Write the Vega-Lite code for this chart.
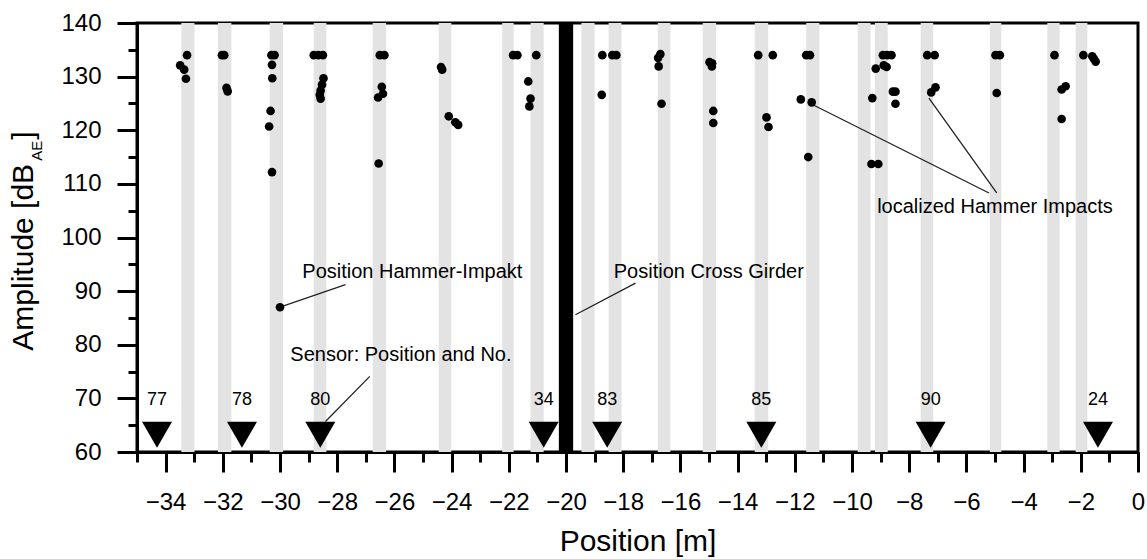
{
  "$schema": "https://vega.github.io/schema/vega-lite/v6.json",
  "width": 1001,
  "height": 429,
  "autosize": {"type": "none"},
  "padding": {"left": 137, "top": 23, "right": 9, "bottom": 107},
  "background": "white",
  "config": {"font": "Liberation Sans", "view": {"stroke": "black", "strokeWidth": 3}},
  "resolve": {"axis": {"x": "independent", "y": "independent"}},
  "datasets": {
    "bands": [
      {"x": -33.45, "x2": -32.99}, {"x": -32.17, "x2": -31.70}, {"x": -30.36, "x2": -29.89},
      {"x": -28.82, "x2": -28.38}, {"x": -26.76, "x2": -26.29}, {"x": -24.45, "x2": -24.01},
      {"x": -22.23, "x2": -21.83}, {"x": -21.24, "x2": -20.78}, {"x": -19.46, "x2": -19.00},
      {"x": -18.51, "x2": -18.06}, {"x": -16.79, "x2": -16.35}, {"x": -15.22, "x2": -14.75},
      {"x": -13.40, "x2": -12.93}, {"x": -11.60, "x2": -11.14}, {"x": -9.80, "x2": -9.35},
      {"x": -9.20, "x2": -8.75}, {"x": -7.60, "x2": -7.16}, {"x": -5.18, "x2": -4.78},
      {"x": -3.17, "x2": -2.74}, {"x": -2.18, "x2": -1.77}
    ],
    "points": [
      {"x": -33.25, "y": 134}, {"x": -33.49, "y": 132.1}, {"x": -33.35, "y": 131.3}, {"x": -33.29, "y": 129.6},
      {"x": -32.03, "y": 134}, {"x": -31.95, "y": 134}, {"x": -31.87, "y": 127.9}, {"x": -31.83, "y": 127.25},
      {"x": -30.30, "y": 134}, {"x": -30.19, "y": 134}, {"x": -30.28, "y": 132.2}, {"x": -30.27, "y": 129.7},
      {"x": -30.33, "y": 123.6}, {"x": -30.38, "y": 120.7}, {"x": -30.28, "y": 112.2}, {"x": -30.0, "y": 87.0},
      {"x": -28.82, "y": 134}, {"x": -28.66, "y": 134}, {"x": -28.50, "y": 134}, {"x": -28.48, "y": 129.7},
      {"x": -28.53, "y": 128.5}, {"x": -28.58, "y": 127.4}, {"x": -28.61, "y": 126.6}, {"x": -28.58, "y": 125.9},
      {"x": -26.51, "y": 134}, {"x": -26.35, "y": 134}, {"x": -26.44, "y": 128.1}, {"x": -26.40, "y": 126.8},
      {"x": -26.57, "y": 126.1}, {"x": -26.55, "y": 113.8},
      {"x": -24.37, "y": 131.8}, {"x": -24.33, "y": 131.3}, {"x": -24.10, "y": 122.6}, {"x": -23.87, "y": 121.5},
      {"x": -23.77, "y": 121.0},
      {"x": -21.85, "y": 134}, {"x": -21.70, "y": 134}, {"x": -21.04, "y": 134}, {"x": -21.32, "y": 129.1},
      {"x": -21.24, "y": 125.9}, {"x": -21.28, "y": 124.45},
      {"x": -18.73, "y": 134}, {"x": -18.38, "y": 134}, {"x": -18.24, "y": 134}, {"x": -18.75, "y": 126.6},
      {"x": -16.70, "y": 134.2}, {"x": -16.78, "y": 133.5}, {"x": -16.76, "y": 131.9}, {"x": -16.66, "y": 124.95},
      {"x": -14.98, "y": 132.7}, {"x": -14.89, "y": 132.5}, {"x": -14.90, "y": 131.9}, {"x": -14.85, "y": 123.6},
      {"x": -14.85, "y": 121.35},
      {"x": -13.28, "y": 134}, {"x": -12.77, "y": 134}, {"x": -12.99, "y": 122.4}, {"x": -12.92, "y": 120.6},
      {"x": -11.60, "y": 134}, {"x": -11.47, "y": 134}, {"x": -11.79, "y": 125.75}, {"x": -11.41, "y": 125.2},
      {"x": -11.53, "y": 115.0},
      {"x": -9.29, "y": 126.0}, {"x": -9.32, "y": 113.7}, {"x": -9.08, "y": 113.7}, {"x": -9.17, "y": 131.5},
      {"x": -8.89, "y": 132.1}, {"x": -8.79, "y": 131.8}, {"x": -8.92, "y": 134}, {"x": -8.77, "y": 134},
      {"x": -8.62, "y": 134}, {"x": -8.57, "y": 127.2}, {"x": -8.48, "y": 127.2}, {"x": -8.48, "y": 124.95},
      {"x": -7.37, "y": 134}, {"x": -7.11, "y": 134}, {"x": -7.08, "y": 128.0}, {"x": -7.23, "y": 127.06},
      {"x": -4.98, "y": 134}, {"x": -4.83, "y": 134}, {"x": -4.94, "y": 126.95},
      {"x": -2.92, "y": 134}, {"x": -2.67, "y": 127.6}, {"x": -2.53, "y": 128.2}, {"x": -2.67, "y": 122.1},
      {"x": -1.91, "y": 134}, {"x": -1.60, "y": 133.8}, {"x": -1.48, "y": 132.8}, {"x": -1.54, "y": 133.3}
    ],
    "sensors": [
      {"x": -34.30, "no": "77"}, {"x": -31.33, "no": "78"}, {"x": -28.59, "no": "80"}, {"x": -20.78, "no": "34"},
      {"x": -18.56, "no": "83"}, {"x": -13.17, "no": "85"}, {"x": -7.25, "no": "90"}, {"x": -1.40, "no": "24"}
    ],
    "leaders": [
      {"x": -30.0, "y": 87.0, "x2": -27.71, "y2": 91.2},
      {"x": -19.67, "y": 85.6, "x2": -17.57, "y2": 91.5},
      {"x": -26.86, "y": 74.1, "x2": -28.41, "y2": 65.7},
      {"x": -11.42, "y": 124.9, "x2": -5.21, "y2": 108.3},
      {"x": -7.31, "y": 126.0, "x2": -4.94, "y2": 108.3}
    ],
    "notes": [
      {"x": -29.22, "y": 92.45, "text": "Position Hammer-Impakt"},
      {"x": -18.33, "y": 92.45, "text": "Position Cross Girder"},
      {"x": -29.64, "y": 76.9, "text": "Sensor: Position and No."},
      {"x": -9.12, "y": 104.57, "text": "localized Hammer Impacts"}
    ]
  },
  "layer": [
    {
      "data": {"name": "bands"},
      "mark": {"type": "rect", "color": "#e3e3e3"},
      "encoding": {
        "x": {"field": "x", "type": "quantitative", "axis": null},
        "x2": {"field": "x2"}
      }
    },
    {
      "data": {"values": [{}]},
      "mark": {"type": "rect", "color": "black"},
      "encoding": {
        "x": {"datum": -20.25, "type": "quantitative", "axis": null},
        "x2": {"datum": -19.75}
      }
    },
    {
      "data": {"name": "leaders"},
      "mark": {"type": "rule", "color": "#222222", "strokeWidth": 1.3},
      "encoding": {
        "x": {"field": "x", "type": "quantitative", "axis": null},
        "y": {"field": "y", "type": "quantitative", "axis": null},
        "x2": {"field": "x2"},
        "y2": {"field": "y2"}
      }
    },
    {
      "data": {"name": "points"},
      "mark": {"type": "circle", "size": 75, "color": "black", "opacity": 1},
      "encoding": {
        "x": {
          "field": "x", "type": "quantitative",
          "scale": {"domain": [-35, 0], "nice": false, "zero": false},
          "axis": {
            "title": "Position [m]",
            "titleFontSize": 30, "titleFontWeight": "normal", "titleColor": "black",
            "titleY": 98, "titleBaseline": "alphabetic",
            "values": [-35,-34,-33,-32,-31,-30,-29,-28,-27,-26,-25,-24,-23,-22,-21,-20,-19,-18,-17,-16,-15,-14,-13,-12,-11,-10,-9,-8,-7,-6,-5,-4,-3,-2,-1,0],
            "labelExpr": "datum.value % 2 === 0 ? datum.label : ''",
            "labelOverlap": false, "labelFlush": false,
            "labelFontSize": 24, "labelColor": "black", "labelPadding": 18,
            "tickSize": {"condition": {"test": "datum.value % 2 === 0", "value": 20}, "value": 10},
            "tickWidth": 3, "tickColor": "black",
            "domainColor": "black", "domainWidth": 3, "grid": false
          }
        },
        "y": {
          "field": "y", "type": "quantitative",
          "scale": {"domain": [60, 140], "nice": false, "zero": false},
          "axis": {
            "title": null,
            "values": [60,65,70,75,80,85,90,95,100,105,110,115,120,125,130,135,140],
            "labelExpr": "datum.value % 10 === 0 ? datum.label : ''",
            "labelOverlap": false, "labelFlush": false,
            "labelFontSize": 24, "labelColor": "black", "labelPadding": 16,
            "tickSize": {"condition": {"test": "datum.value % 10 === 0", "value": 20}, "value": 9},
            "tickWidth": 3, "tickColor": "black",
            "domainColor": "black", "domainWidth": 3, "grid": false
          }
        }
      }
    },
    {
      "data": {"name": "sensors"},
      "mark": {"type": "point", "shape": "triangle-down", "size": 900, "filled": true, "color": "black", "opacity": 1},
      "encoding": {
        "x": {"field": "x", "type": "quantitative", "axis": null},
        "y": {"datum": 63.2, "type": "quantitative", "axis": null}
      }
    },
    {
      "data": {"name": "sensors"},
      "mark": {"type": "text", "fontSize": 18, "color": "black", "align": "center", "baseline": "alphabetic"},
      "encoding": {
        "x": {"field": "x", "type": "quantitative", "axis": null},
        "y": {"datum": 68.7, "type": "quantitative", "axis": null},
        "text": {"field": "no"}
      }
    },
    {
      "data": {"name": "notes"},
      "mark": {"type": "text", "fontSize": 20, "color": "black", "align": "left", "baseline": "alphabetic"},
      "encoding": {
        "x": {"field": "x", "type": "quantitative", "axis": null},
        "y": {"field": "y", "type": "quantitative", "axis": null},
        "text": {"field": "text"}
      }
    },
    {
      "data": {"values": [{}]},
      "mark": {"type": "text", "fontSize": 30, "color": "black", "align": "left", "baseline": "alphabetic", "angle": 270},
      "encoding": {
        "x": {"datum": -38.63, "type": "quantitative", "axis": null},
        "y": {"datum": 78.9, "type": "quantitative", "axis": null},
        "text": {"value": "Amplitude [dB"}
      }
    },
    {
      "data": {"values": [{}]},
      "mark": {"type": "text", "fontSize": 15, "color": "black", "align": "left", "baseline": "alphabetic", "angle": 270},
      "encoding": {
        "x": {"datum": -38.32, "type": "quantitative", "axis": null},
        "y": {"datum": 114.3, "type": "quantitative", "axis": null},
        "text": {"value": "AE"}
      }
    },
    {
      "data": {"values": [{}]},
      "mark": {"type": "text", "fontSize": 30, "color": "black", "align": "left", "baseline": "alphabetic", "angle": 270},
      "encoding": {
        "x": {"datum": -38.63, "type": "quantitative", "axis": null},
        "y": {"datum": 118.24, "type": "quantitative", "axis": null},
        "text": {"value": "]"}
      }
    }
  ]
}
